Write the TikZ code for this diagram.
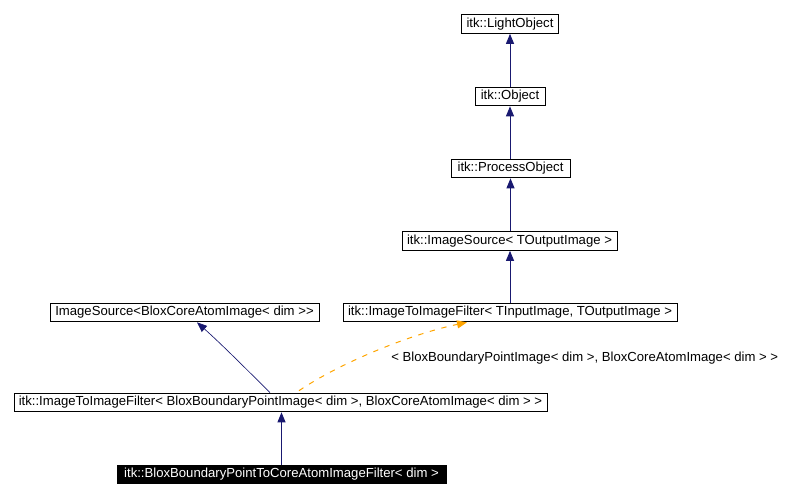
\documentclass[tikz,border=0pt]{standalone}
\usepackage{fontspec}
\setmainfont{Liberation Sans}[Ligatures=TeXReset]
\usetikzlibrary{arrows.meta}
\definecolor{navyedge}{HTML}{191970}
\definecolor{orangeedge}{HTML}{FFA500}
\tikzset{
  cls/.style={draw=black, line width=0.75pt, fill=white, inner sep=0pt, minimum height=14pt,
    font=\fontsize{9.85}{12}\selectfont, text height=7.2pt, text depth=2pt},
  mainbox/.style={cls, fill=black, text=white},
  inherit/.style={draw=navyedge, line width=0.75pt, -{Triangle[length=7.5pt,width=6pt]}},
  inheritthin/.style={draw=navyedge, line width=0.5pt, -{Triangle[length=7.5pt,width=6pt]}},
  tmpl/.style={draw=orangeedge, line width=0.75pt, dash pattern=on 4pt off 5pt,
    -{Triangle[length=7.5pt,width=6pt]}},
  lbl/.style={inner sep=0pt, font=\fontsize{9.85}{12}\selectfont, text height=7.2pt, text depth=2pt}
}
\begin{document}
\begin{tikzpicture}[x=0.75pt,y=-0.75pt]
\useasboundingbox (0,0) rectangle (792,499);
\node[cls, minimum width=72.75pt] (lo) at (510,24) {itk::LightObject};
\node[cls, minimum width=52.5pt] (ob) at (510,96.5) {itk::Object};
\node[cls, minimum width=89.25pt] (po) at (510.5,168.5) {itk::ProcessObject};
\node[cls, minimum width=161.25pt] (is) at (509.5,241) {itk::ImageSource< TOutputImage >};
\node[cls, minimum width=250.5pt] (itif) at (510,312.5) {itk::ImageToImageFilter< TInputImage, TOutputImage >};
\node[cls, minimum width=201.75pt] (isb) at (184.5,312.5) {ImageSource<BloxCoreAtomImage< dim >>};
\node[cls, minimum width=399.75pt] (itifb) at (280.5,402.5) {itk::ImageToImageFilter< BloxBoundaryPointImage< dim >, BloxCoreAtomImage< dim > >};
\node[mainbox, minimum width=246.75pt] (main) at (281.5,474.5) {itk::BloxBoundaryPointToCoreAtomImageFilter< dim >};
\node[lbl, anchor=west] (tl) at (391,358) {< BloxBoundaryPointImage< dim >, BloxCoreAtomImage< dim > >};

\draw[inherit] (ob.north) -- (lo.south);
\draw[inherit] (po.north -| ob.north) -- (ob.south);
\draw[inherit] (is.north -| po.south) -- (po.south);
\draw[inherit] (itif.north) -- (is.south -| itif.north);
\draw[inherit] (main.north -| itifb.south) ++(0.75pt,0) coordinate (ms) (ms) -- (ms |- itifb.south);
\draw[inheritthin] ([xshift=-7.875pt]itifb.north) .. controls ([xshift=-26.625pt,yshift=18.75pt]itifb.north) and ([xshift=26.25pt,yshift=-15pt]isb.south) .. ([xshift=9.375pt]isb.south);
\draw[tmpl] ([xshift=13.875pt,yshift=1.5pt]itifb.north) .. controls ([xshift=45pt,yshift=22.5pt]itifb.north) and ([xshift=-75pt,yshift=-9pt]itif.south) .. ([xshift=-32.25pt]itif.south);
\end{tikzpicture}
\end{document}
